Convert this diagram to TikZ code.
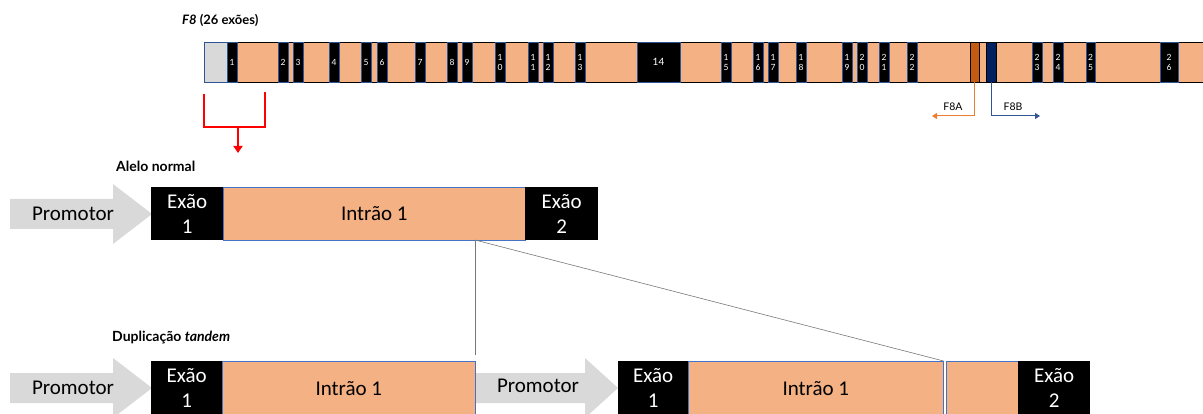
\documentclass[tikz,border=0pt]{standalone}
\usepackage{fontspec}
\setmainfont{Carlito}
\newfontfamily\lato{Lato}
\usetikzlibrary{arrows.meta}
\definecolor{intr}{RGB}{244,177,131}
\definecolor{promc}{RGB}{217,217,217}
\definecolor{exb}{RGB}{47,85,151}
\definecolor{f8a}{RGB}{197,90,17}
\definecolor{f8b}{RGB}{0,32,96}
\definecolor{f8aline}{RGB}{237,125,49}
\definecolor{f8bline}{RGB}{47,85,151}
\definecolor{bline}{RGB}{68,114,196}
\definecolor{gline}{RGB}{120,120,120}
\tikzset{
  gex/.style={draw=exb, fill=black, text=white, inner sep=0, minimum height=40pt, align=center,
    font=\lato\fontsize{8.5}{10}\selectfont, line width=0.8pt},
  bigex/.style={fill=black, text=white, inner sep=0, align=center, anchor=north west,
    font=\fontsize{21}{25}\selectfont},
  bigin/.style={draw=bline, fill=intr, inner sep=0, anchor=north west,
    font=\fontsize{21}{25}\selectfont, line width=0.6pt},
  promtxt/.style={inner sep=0, font=\fontsize{21}{25}\selectfont},
  promshape/.style={fill=promc, draw=none},
  lbl/.style={font=\lato\bfseries\fontsize{14}{17}\selectfont, anchor=west, inner sep=0},
  redline/.style={draw=red, line width=2.4pt},
  zoomline/.style={draw=gline, line width=0.6pt},
}
\newcommand{\gexon}[4]{\node[gex, minimum width={(#2-#1)*1pt}] (#4) at ({(#1+#2)/2},62) {#3};}
\begin{document}
\begin{tikzpicture}[x=1pt,y=-1pt]
\useasboundingbox (0,0) rectangle (1203,414);
% ---------- title and gene bar ----------
\node[font=\lato\bfseries\fontsize{13}{15}\selectfont, anchor=west, inner sep=0] (title) at (182,20) {\textit{F8} (26 exões)};
\node[draw=black, fill=intr, inner sep=0, minimum width=1004pt, minimum height=40pt, anchor=north west, line width=0.7pt] (bar) at (204,42) {};
\node[draw=exb, fill=promc, inner sep=0, minimum width=23pt, minimum height=40pt, anchor=north west, line width=0.7pt] (utr) at (204,42) {};
\gexon{227}{237}{1}{e1}
\gexon{278}{288}{2}{e2}
\gexon{293}{303}{3}{e3}
\gexon{329}{339}{4}{e4}
\gexon{361}{371}{5}{e5}
\gexon{377}{387}{6}{e6}
\gexon{415}{425}{7}{e7}
\gexon{447}{457}{8}{e8}
\gexon{462}{472}{9}{e9}
\gexon{495}{505}{1\\0}{e10}
\gexon{528}{538}{1\\1}{e11}
\gexon{543}{553}{1\\2}{e12}
\gexon{575}{585}{1\\3}{e13}
\node[gex, minimum width=43pt, font=\lato\fontsize{10}{11}\selectfont] (e14) at (658.5,62) {14};
\gexon{721}{731}{1\\5}{e15}
\gexon{753}{763}{1\\6}{e16}
\gexon{768}{778}{1\\7}{e17}
\gexon{796}{806}{1\\8}{e18}
\gexon{842}{852}{1\\9}{e19}
\gexon{857}{867}{2\\0}{e20}
\gexon{879}{889}{2\\1}{e21}
\gexon{907}{917}{2\\2}{e22}
\gexon{1032}{1042}{2\\3}{e23}
\gexon{1053}{1063}{2\\4}{e24}
\gexon{1086}{1095}{2\\5}{e25}
\gexon{1160}{1178}{2\\6}{e26}
% primers
\node[draw=black, fill=f8a, inner sep=0, minimum width=9pt, minimum height=40pt, line width=0.6pt] (pA) at (974.5,62) {};
\node[draw=black, fill=f8b, inner sep=0, minimum width=10pt, minimum height=40pt, line width=0.6pt] (pB) at (991,62) {};
\coordinate (pAend) at (932,116);
\coordinate (pBend) at (1040,116);
\draw[f8aline, line width=1pt, -{Triangle[width=6pt,length=5pt]}] (pA.south) |- (pAend);
\draw[f8bline, line width=1pt, -{Triangle[width=6pt,length=5pt]}] (pB.south) |- (pBend);
\node[font=\lato\fontsize{10.5}{12}\selectfont, inner sep=0] (lA) at (953,107) {F8A};
\node[font=\lato\fontsize{10.5}{12}\selectfont, inner sep=0] (lB) at (1013,107) {F8B};
% red bracket
\coordinate (rL) at (204,94);
\coordinate (rR) at (265,92);
\coordinate (rM) at (238,127);
\coordinate (rT) at (238,153);
\draw[redline] (rL) -- (204,127) -- (265,127) -- (rR);
\draw[redline, -{Triangle[width=9pt,length=7pt]}] (rM) -- (rT);
% ---------- normal allele ----------
\node[lbl] (normal) at (116,166) {Alelo normal};
\fill[promshape] (10,199) -- (113,199) -- (113,184) -- (152,214) -- (113,244) -- (113,229) -- (10,229) -- cycle;
\node[promtxt] (p1) at (73,214) {Promotor};
\node[bigex, minimum width=72pt, minimum height=53pt] (nx1) at (151,187) {Exão\\1};
\node[bigin, minimum width=302pt, minimum height=53pt] (nin) at (223,187) {Intrão 1};
\node[bigex, minimum width=73pt, minimum height=53pt] (nx2) at (525,187) {Exão\\2};
% ---------- tandem duplication ----------
\node[lbl] (dup) at (112,338) {Duplicação \textit{tandem}};
\fill[promshape] (10,373) -- (113,373) -- (113,358) -- (152,388) -- (113,418) -- (113,403) -- (10,403) -- cycle;
\node[promtxt] (p2) at (73,388) {Promotor};
\node[bigex, minimum width=71pt, minimum height=54pt] (dx1) at (151,361) {Exão\\1};
\node[bigin, minimum width=253pt, minimum height=54pt] (din1) at (222,361) {Intrão 1};
\fill[promshape] (476,373) -- (585,373) -- (585,358) -- (618,388) -- (585,418) -- (585,403) -- (476,403) -- cycle;
\node[promtxt] (p3) at (538,386) {Promotor};
\node[bigex, minimum width=70pt, minimum height=54pt] (dx1b) at (618,361) {Exão\\1};
\node[bigin, minimum width=255pt, minimum height=54pt] (din2) at (688,361) {Intrão 1};
\node[bigin, minimum width=72pt, minimum height=54pt] (din3) at (946,361) {};
\node[bigex, minimum width=72pt, minimum height=54pt] (dx2) at (1018,361) {Exão\\2};
% zoom lines
\coordinate (cut) at (475,240);
\coordinate (cutdown) at (475,355);
\draw[zoomline] (cut) -- (cutdown);
\draw[zoomline] (cut) -- (din2.north east);
\end{tikzpicture}
\end{document}
